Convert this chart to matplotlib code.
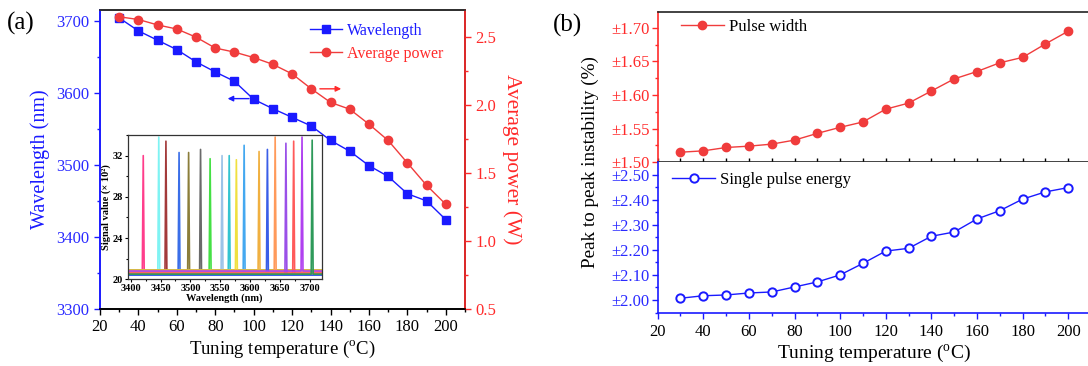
import matplotlib
matplotlib.use('Agg')
import matplotlib.pyplot as plt
from matplotlib.ticker import MultipleLocator, FuncFormatter

plt.rcParams['font.family'] = ['Liberation Serif', 'DejaVu Serif']
plt.rcParams['mathtext.fontset'] = 'custom'
plt.rcParams['mathtext.rm'] = 'Liberation Serif'

# data
temps = [30, 40, 50, 60, 70, 80, 90, 100, 110, 120, 130, 140, 150, 160, 170, 180, 190, 200]
wavelength = [3704, 3686, 3673, 3660, 3643, 3629, 3616, 3591, 3578, 3566, 3554,
              3534, 3519, 3499, 3484, 3460, 3450, 3424]
avg_power = [2.65, 2.63, 2.59, 2.56, 2.50, 2.42, 2.39, 2.35, 2.30, 2.23, 2.12,
             2.02, 1.97, 1.86, 1.74, 1.575, 1.41, 1.27]
pulse_width = [1.515, 1.517, 1.522, 1.524, 1.527, 1.533, 1.543, 1.552, 1.560, 1.579,
               1.588, 1.606, 1.624, 1.635, 1.648, 1.656, 1.676, 1.695]
pulse_energy = [2.007, 2.017, 2.020, 2.028, 2.032, 2.052, 2.072, 2.100, 2.146, 2.195,
                2.206, 2.254, 2.271, 2.323, 2.356, 2.402, 2.431, 2.448]

# inset spectra: peak centre (nm), peak height, baseline level
peak_center = [3421, 3447, 3459, 3481, 3497, 3517, 3533, 3553, 3565, 3577, 3590,
               3615, 3629, 3642, 3660, 3673, 3687, 3704]
peak_height = [32.0, 33.8, 33.4, 32.3, 32.3, 32.6, 31.7, 32.0, 32.0, 31.6, 33.0,
               32.4, 32.6, 33.8, 33.2, 33.4, 33.8, 33.5]
base_level = [20.6, 20.8, 20.5, 20.4, 20.7, 20.6, 20.9, 20.5, 20.7, 20.8, 20.6,
              20.9, 20.4, 20.7, 20.5, 20.6, 20.8, 20.5]
peak_colors = ['#ff3d8b', '#7ff3f3', '#a33a3a', '#3a6ee8', '#8b7d3a', '#6a6a6a',
               '#44e044', '#9cc3e8', '#33c4d0', '#f0e040', '#44a8f0', '#f0b040',
               '#3a5ee8', '#ff9a5a', '#9a50e8', '#ff5a5a', '#b040f0', '#2e9a5a']

BLUE = '#1a1aff'
RED = '#f03c3c'
RED_T = '#ff2a2a'
BLUE_T = '#2a2aff'

fig = plt.figure(figsize=(10.88, 3.66), dpi=100)

# ---------------- panel (a)
ax = fig.add_axes([0.0919, 0.1557, 0.3355, 0.8170])
ax2 = ax.twinx()

l1, = ax.plot(temps, wavelength, '-s', color=BLUE, lw=1, ms=5.6, label='Wavelength')
l2, = ax2.plot(temps, avg_power, '-o', color=RED, lw=1, ms=6, label='Average power')

ax.set_xlim(20, 210)
ax.set_ylim(3300, 3715)
ax2.set_ylim(0.5, 2.70)
ax.xaxis.set_major_locator(MultipleLocator(20))
ax.xaxis.set_minor_locator(MultipleLocator(10))
ax.yaxis.set_major_locator(MultipleLocator(100))
ax.yaxis.set_minor_locator(MultipleLocator(50))
ax2.yaxis.set_major_locator(MultipleLocator(0.5))
ax2.yaxis.set_minor_locator(MultipleLocator(0.25))
ax2.yaxis.set_major_formatter(FuncFormatter(lambda v, p: '%.1f' % v))

ax.tick_params(axis='x', which='both', direction='out', labelsize=12, pad=3)
ax.tick_params(axis='x', which='major', length=4, width=1)
ax.tick_params(axis='x', which='minor', length=2.5, width=1)
ax.tick_params(axis='y', which='both', colors=BLUE, labelcolor=BLUE_T, labelsize=12, width=1)
ax.tick_params(axis='y', which='major', length=4)
ax.tick_params(axis='y', which='minor', length=2.5)
ax2.tick_params(axis='y', which='both', colors=RED_T, labelcolor=RED_T, labelsize=12, width=1)
ax2.tick_params(axis='y', which='major', length=4)
ax2.tick_params(axis='y', which='minor', length=2.5)

ax.spines['left'].set_color(BLUE)
ax2.spines['left'].set_color(BLUE)
ax2.spines['right'].set_color(RED_T)
ax2.spines['top'].set_color('#333333')
for a in (ax, ax2):
    for s in a.spines.values():
        s.set_linewidth(1.2)

ax.set_xlabel('Tuning temperature ($^{\\mathrm{o}}$C)', fontsize=13.5, labelpad=3)
ax.set_ylabel('Wavelength (nm)', fontsize=14.5, color=BLUE, labelpad=5)
ax2.set_ylabel('Average power (W)', fontsize=15.5, color=RED_T, rotation=-90, labelpad=18)

leg = ax2.legend(handles=[l1, l2], loc='upper left', bbox_to_anchor=(0.545, 0.995),
                 frameon=False, fontsize=11.5, handlelength=2.0, handletextpad=0.3,
                 labelspacing=0.45, borderaxespad=0.3)
leg.get_texts()[0].set_color(BLUE)
leg.get_texts()[1].set_color(RED_T)

ax.annotate('', xy=(147, 2.12), xytext=(133, 2.12), xycoords=ax2.transData,
            arrowprops=dict(arrowstyle='-|>', color=RED_T, lw=1, mutation_scale=8))
ax.annotate('', xy=(85, 3592), xytext=(99, 3592),
            arrowprops=dict(arrowstyle='-|>', color=BLUE, lw=1, mutation_scale=8))

fig.text(0.006, 0.935, '(a)', fontsize=18, va='center')

# inset
axi = fig.add_axes([0.1174, 0.2369, 0.1783, 0.3942])
for c, h, b, col in zip(peak_center, peak_height, base_level, peak_colors):
    xs = [3395, c - 1.6, c, c + 1.6, 3720]
    ys = [b, b, h, b, b]
    axi.plot(xs, ys, color=col, lw=1.2)
axi.set_xlim(3395, 3720)
axi.set_ylim(20, 34)
axi.xaxis.set_major_locator(MultipleLocator(50))
axi.xaxis.set_minor_locator(MultipleLocator(25))
axi.yaxis.set_major_locator(MultipleLocator(4))
axi.yaxis.set_minor_locator(MultipleLocator(2))
axi.tick_params(which='both', direction='out', labelsize=7.5, pad=1, width=0.8)
axi.tick_params(which='major', length=2.5)
axi.tick_params(which='minor', length=1.5)
for t in axi.get_xticklabels() + axi.get_yticklabels():
    t.set_fontweight('bold')
axi.set_xlabel('Wavelength (nm)', fontsize=7.5, fontweight='bold', labelpad=0)
axi.set_ylabel('Signal value (\u00d7 10\u00b2)', fontsize=7.5, fontweight='bold', labelpad=1)
for s in axi.spines.values():
    s.set_linewidth(0.9)
    s.set_color('#333333')

# ---------------- panel (b)
bt = fig.add_axes([0.6045, 0.5566, 0.3982, 0.4114])
bb = fig.add_axes([0.6045, 0.1440, 0.3982, 0.4126])

bt.plot(temps, pulse_width, '-o', color=RED, lw=1, ms=6, label='Pulse width')
bb.plot(temps, pulse_energy, '-o', color=BLUE, lw=1, ms=6, mfc='white',
        mec=BLUE, mew=1.4, label='Single pulse energy')

pm = FuncFormatter(lambda v, p: '\u00b1%.2f' % v)
for a in (bt, bb):
    a.set_xlim(20, 210)
    a.xaxis.set_major_locator(MultipleLocator(20))
    a.xaxis.set_minor_locator(MultipleLocator(10))
    a.yaxis.set_major_formatter(pm)
    a.spines['right'].set_visible(False)
    for s in a.spines.values():
        s.set_linewidth(1.2)

bt.set_ylim(1.50, 1.724)
bt.yaxis.set_major_locator(MultipleLocator(0.05))
bt.yaxis.set_minor_locator(MultipleLocator(0.025))
bt.tick_params(axis='x', which='both', direction='in', length=3, width=1,
               labelbottom=False)
bt.tick_params(axis='y', which='both', colors=RED_T, labelcolor=RED_T, labelsize=12,
               width=1, pad=2)
bt.tick_params(axis='y', which='major', length=4)
bt.tick_params(axis='y', which='minor', length=2.5)
bt.spines['left'].set_color(RED_T)
bt.spines['bottom'].set_color('#222222')
bt.spines['top'].set_color('#222222')

bb.set_ylim(1.947, 2.549)
bb.yaxis.set_major_locator(MultipleLocator(0.1))
bb.yaxis.set_minor_locator(MultipleLocator(0.05))
bb.spines['top'].set_visible(False)
bb.spines['left'].set_color(BLUE)
bb.spines['bottom'].set_color(BLUE)
bb.tick_params(axis='x', which='both', direction='out', colors=BLUE, labelcolor='black',
               labelsize=12, width=1)
bb.tick_params(axis='x', which='major', length=4)
bb.tick_params(axis='x', which='minor', length=2.5)
bb.tick_params(axis='y', which='both', colors=BLUE, labelcolor=BLUE_T, labelsize=12,
               width=1, pad=2)
bb.tick_params(axis='y', which='major', length=4)
bb.tick_params(axis='y', which='minor', length=2.5)
bb.set_xlabel('Tuning temperature ($^{\\mathrm{o}}$C)', fontsize=14, labelpad=2)

bt.legend(loc='upper left', bbox_to_anchor=(0.03, 1.02), frameon=False, fontsize=12,
          handlelength=2.6, handletextpad=0.3, borderaxespad=0.2)
bb.legend(loc='upper left', bbox_to_anchor=(0.01, 1.0), frameon=False, fontsize=12,
          handlelength=2.6, handletextpad=0.3, borderaxespad=0.2)

fig.text(0.5425, 0.556, 'Peak to peak instability (%)', fontsize=13.8, rotation=90,
         va='center', ha='center')
fig.text(0.508, 0.93, '(b)', fontsize=18, va='center')

fig.savefig('out.png', dpi=100)
